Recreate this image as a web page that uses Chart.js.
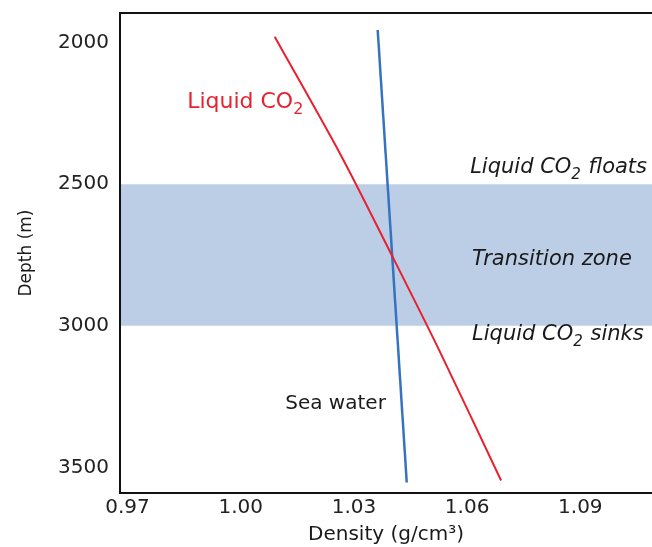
<!DOCTYPE html>
<html><head><meta charset="utf-8">
<script src="https://cdn.jsdelivr.net/npm/chart.js@4/dist/chart.umd.min.js"></script>
<style>html,body{margin:0;padding:0;background:#fff;} canvas{display:block;}</style>
</head><body>
<canvas id="c" width="652" height="547"></canvas>
<script>
// ---- data ----
const xTickValues = [0.97, 1.00, 1.03, 1.06, 1.09];
const yTickValues = [2000, 2500, 3000, 3500];
const co2Density = [1.009, 1.0265, 1.040, 1.0523, 1.069];
const co2Depth   = [1980, 2397, 2750, 3078, 3546];
const seaDensity = [1.0363, 1.0440];
const seaDepth   = [1956, 3553];
const zoneDepths = [2500, 3000];
const xRange = [0.968, 1.109];
const yRange = [1896, 3590];

const RED = '#e8202f';
const BLUE = '#3573c0';
const BAND = '#bccde6';
const TXT = '#1a1a1a';
const FONT = '"DejaVu Sans", sans-serif';

const pts = (xs, ys) => xs.map((x, i) => ({x, y: ys[i]}));

const labels = [
  {parts:[{t:'Liquid CO'},{t:'2',sub:true}], x:0.9858, y:2232, color:RED, italic:false, size:22},
  {parts:[{t:'Liquid CO'},{t:'2',sub:true},{t:' floats'}], x:1.0608, y:2460, color:TXT, italic:true, size:21},
  {parts:[{t:'Transition zone'}], x:1.0613, y:2785, color:TXT, italic:true, size:21},
  {parts:[{t:'Liquid CO'},{t:'2',sub:true},{t:' sinks'}], x:1.0613, y:3050, color:TXT, italic:true, size:21},
  {parts:[{t:'Sea water'}], x:1.0118, y:3293, color:TXT, italic:false, size:20}
];

const annotate = {
  id: 'annotate',
  afterDatasetsDraw(chart) {
    const {ctx, scales:{x, y}, chartArea} = chart;
    ctx.save();
    // top frame line
    ctx.strokeStyle = '#111';
    ctx.lineWidth = 2;
    ctx.beginPath();
    ctx.moveTo(chartArea.left - 1, chartArea.top);
    ctx.lineTo(chartArea.right, chartArea.top);
    ctx.stroke();
    ctx.textBaseline = 'alphabetic';
    ctx.textAlign = 'left';
    for (const l of labels) {
      let px = x.getPixelForValue(l.x);
      const py = y.getPixelForValue(l.y);
      ctx.fillStyle = l.color;
      for (const p of l.parts) {
        const size = p.sub ? Math.round(l.size * 0.72) : l.size;
        ctx.font = (l.italic ? 'italic ' : '') + size + 'px ' + FONT;
        ctx.fillText(p.t, px, py + (p.sub ? 6 : 0));
        px += ctx.measureText(p.t).width + (p.sub ? 1 : 0);
      }
    }
    ctx.restore();
  }
};

new Chart(document.getElementById('c'), {
  type: 'scatter',
  data: {
    datasets: [
      {label:'zoneTop', data: pts(xRange, [zoneDepths[0], zoneDepths[0]]), showLine:true, borderWidth:0,
       pointRadius:0, fill:'+1', backgroundColor:BAND, borderColor:'rgba(0,0,0,0)', order:10},
      {label:'zoneBottom', data: pts(xRange, [zoneDepths[1], zoneDepths[1]]), showLine:true, borderWidth:0,
       pointRadius:0, fill:false, borderColor:'rgba(0,0,0,0)', order:11},
      {label:'Sea water', data: pts(seaDensity, seaDepth), showLine:true, borderColor:BLUE, borderWidth:2.5,
       pointRadius:0, fill:false, order:2},
      {label:'Liquid CO2', data: pts(co2Density, co2Depth), showLine:true, borderColor:RED, borderWidth:2,
       pointRadius:0, fill:false, tension:0.3, order:1}
    ]
  },
  options: {
    responsive:false,
    animation:false,
    devicePixelRatio:1,
    layout:{padding:{top:13, right:0, left:0, bottom:0}},
    plugins:{legend:{display:false}, tooltip:{enabled:false}},
    scales:{
      x:{
        type:'linear', position:'bottom', min:xRange[0], max:xRange[1],
        grid:{display:false, drawTicks:false},
        border:{display:true, color:'#111', width:2, z:1},
        ticks:{padding:3, color:'#222', font:{family:FONT, size:20}, maxRotation:0,
               callback:(v)=>Number(v).toFixed(2)},
        afterBuildTicks:(s)=>{ s.ticks = xTickValues.map(v=>({value:v})); },
        afterFit:(s)=>{ s.height = 54; s.paddingLeft = 0; s.paddingRight = 0; },
        title:{display:true, text:'Density (g/cm³)', color:TXT, font:{family:FONT, size:20, lineHeight:1.2},
               padding:{top:0, bottom:0}}
      },
      y:{
        type:'linear', position:'left', reverse:true, min:yRange[0], max:yRange[1],
        grid:{display:false, drawTicks:false},
        border:{display:true, color:'#111', width:2, z:1},
        ticks:{padding:11, color:'#222', font:{family:FONT, size:20},
               callback:(v)=>String(v)},
        afterBuildTicks:(s)=>{ s.ticks = yTickValues.map(v=>({value:v})); },
        afterFit:(s)=>{ s.width = 120; s.paddingTop = 0; s.paddingBottom = 0; },
        title:{display:true, text:'Depth (m)', color:TXT, font:{family:FONT, size:17, lineHeight:1.2},
               padding:{top:16, bottom:0}}
      }
    }
  },
  plugins:[annotate]
});
</script>
</body></html>
